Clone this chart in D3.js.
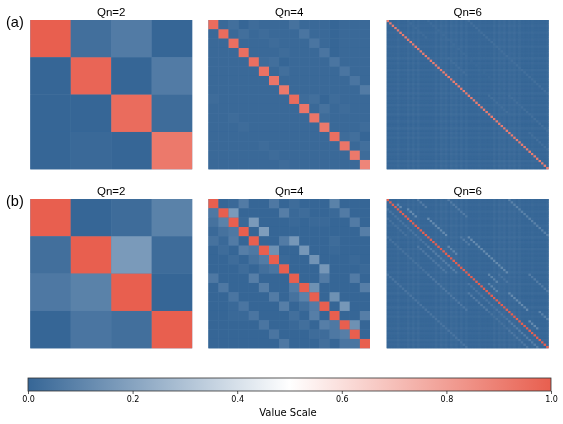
<!DOCTYPE html>
<html><head><meta charset="utf-8">
<script src="https://cdn.jsdelivr.net/npm/d3@7"></script>
<style>html,body{margin:0;padding:0;background:#fff}svg{display:block;filter:blur(0.5px)}</style>
</head><body><svg id="c" width="563" height="424"></svg>
<script>
const rowLabels = ["(a)", "(b)"];
const titles = ["Qn=2", "Qn=4", "Qn=6"];
const colorStops = [0, 0.5, 1];
const colorRange = ["#366696", "#ffffff", "#e85f4f"];
const barTicks = [0, 0.2, 0.4, 0.6, 0.8, 1];
const barLabel = "Value Scale";

const a2 = [
 [1.00,.03,.07,.00],
 [.00,.98,.00,.07],
 [.00,.00,.96,.02],
 [.00,.01,.00,.92]];
const b2 = [
 [1.00,.00,.02,.09],
 [.03,1.00,.17,.02],
 [.06,.09,1.00,.00],
 [.00,.05,.03,1.00]];
const a4 = [
 [.96,.01,.03,.00,.02,.01,.01,.01,.04,.01,.01,.01,.00,.01,.01,.01],
 [.01,.96,.01,.03,.01,.02,.01,.01,.01,.05,.01,.01,.00,.01,.01,.01],
 [.01,.01,.95,.01,.01,.01,.02,.01,.01,.01,.05,.01,.00,.01,.01,.01],
 [.01,.01,.01,.95,.01,.01,.01,.02,.01,.01,.01,.05,.00,.01,.01,.01],
 [.01,.01,.01,.01,.95,.02,.03,.00,.01,.01,.01,.01,.05,.01,.01,.01],
 [.01,.01,.01,.01,.01,.94,.01,.03,.01,.01,.01,.01,.01,.05,.01,.01],
 [.01,.01,.01,.01,.01,.01,.93,.01,.01,.01,.01,.01,.01,.01,.05,.01],
 [.01,.01,.01,.01,.01,.01,.01,.92,.01,.01,.01,.01,.01,.01,.01,.07],
 [.02,.01,.01,.01,.01,.01,.01,.01,.96,.02,.03,.00,.02,.01,.01,.01],
 [.01,.01,.01,.01,.01,.01,.01,.01,.01,.93,.01,.04,.01,.02,.01,.01],
 [.01,.01,.02,.01,.01,.01,.01,.01,.01,.01,.93,.02,.01,.01,.01,.01],
 [.01,.01,.01,.02,.01,.01,.01,.01,.01,.01,.01,.92,.01,.01,.01,.02],
 [.01,.01,.01,.01,.01,.01,.01,.01,.01,.01,.01,.01,.95,.02,.03,.00],
 [.01,.01,.01,.01,.01,.02,.01,.01,.01,.01,.01,.01,.01,.93,.01,.03],
 [.01,.01,.01,.01,.01,.01,.02,.01,.01,.01,.01,.01,.01,.01,.92,.02],
 [.01,.01,.01,.01,.01,.01,.01,.02,.01,.01,.01,.01,.01,.01,.01,.88]];
const b4 = [
 [1,.00,.01,.07,.00,.00,.06,.00,.02,.00,.00,.00,.09,.00,.00,.00],
 [.06,1,.17,.00,.00,.00,.00,.08,.01,.02,.00,.00,.01,.07,.00,.00],
 [.04,.09,1,.01,.17,.00,.00,.00,.01,.00,.01,.01,.00,.00,.07,.00],
 [.01,.04,.06,1,.00,.18,.00,.00,.00,.00,.00,.00,.00,.00,.00,.08],
 [.04,.01,.07,.00,1,.00,.00,.07,.16,.00,.00,.00,.02,.00,.00,.00],
 [.00,.02,.00,.08,.06,1,.14,.00,.00,.16,.00,.00,.01,.00,.00,.00],
 [.00,.00,.02,.00,.04,.07,1,.01,.00,.00,.15,.00,.00,.00,.01,.00],
 [.00,.00,.00,.02,.00,.03,.05,1,.00,.00,.00,.16,.00,.00,.00,.01],
 [.06,.00,.00,.00,.08,.00,.00,.00,1,.00,.00,.07,.00,.00,.07,.00],
 [.00,.06,.00,.00,.00,.08,.00,.00,.07,1,.14,.00,.00,.00,.00,.08],
 [.00,.00,.05,.00,.00,.00,.07,.00,.04,.09,1,.00,.14,.00,.00,.00],
 [.00,.00,.01,.05,.00,.00,.00,.08,.00,.03,.07,1,.00,.16,.00,.00],
 [.00,.00,.01,.01,.05,.00,.00,.00,.03,.00,.08,.00,1,.00,.00,.08],
 [.00,.00,.00,.00,.00,.05,.00,.00,.01,.03,.00,.08,.06,1,.14,.00],
 [.00,.00,.00,.00,.00,.00,.05,.00,.00,.00,.02,.02,.06,.08,1,.00],
 [.00,.00,.00,.00,.00,.00,.00,.06,.00,.00,.00,.03,.00,.05,.05,1]];

const a6Runs = [
 [0,0,64,.91],
 [0,32,32,.03],[0,8,8,.02],[0,16,16,.02],[16,24,8,.03],
 [32,40,8,.03],[32,48,16,.03],[48,56,8,.03],[16,32,16,.01]];
const b6Runs = [
 [0,0,64,1],
 [0,48,16,.09],[0,24,8,.07],[0,12,4,.07],[2,4,2,.12],[4,8,4,.12],[8,16,8,.12],
 [16,32,16,.12],[20,24,4,.10],[16,29,4,.07],
 [32,56,8,.07],[40,48,8,.12],[32,40,4,.10],[36,40,4,.10],[48,60,4,.09],[52,56,4,.12],[32,44,4,.05],
 [32,0,32,.05],[32,16,16,.06],[16,0,16,.04],[8,0,8,.04],
 [4,0,12,.05],[6,2,10,.04],
 [20,16,12,.08],[20,12,12,.06],[16,12,4,.05],
 [36,32,12,.05],[40,32,8,.07],[48,44,4,.05],
 [52,48,12,.08],[56,48,8,.06],[48,40,8,.04]];

// faint light stripes running through the Qn=6 panels, by column and by row
const colShade6 = [
 0,0,0,0,.01,0,0,0,.012,0,.012,0,.012,0,0,0,
 0,0,0,.012,0,.014,.006,.014,0,.014,.006,.014,0,.014,0,.012,
 0,0,0,0,.006,0,0,0,0,0,.014,0,.014,.006,.014,0,
 .014,.006,.014,0,.012,0,0,0,0,.006,0,0,0,0,0,.006];
const rowShade6 = [
 0,0,.008,0,0,.01,0,0,.008,0,0,.012,0,0,.006,0,
 .012,0,.008,0,0,.012,0,.008,0,.006,0,.01,0,.008,0,.012,
 0,.008,0,0,.012,0,.006,0,.012,0,0,.008,0,0,.012,0,
 .008,0,.012,0,0,.006,0,.01,0,.008,0,0,.012,0,.008,0];

const color = d3.scaleLinear().domain(colorStops).range(colorRange);
const svg = d3.select("#c");

function fromRuns(runs, n) {
  const m = d3.range(n).map((r) => d3.range(n).map((c) => colShade6[c] + rowShade6[r]));
  runs.slice().reverse().forEach(([r, c, len, v]) => {
    d3.range(len).forEach(i => { if (r + i < n && c + i < n) m[r + i][c + i] = v; });
  });
  return m;
}

const matrices = [
  [a2, a4, fromRuns(a6Runs, 64)],
  [b2, b4, fromRuns(b6Runs, 64)]
];
const xDomains = [[30.3, 192.2], [208.4, 370], [386.7, 548.7]];
const yDomains = [[20, 169.3], [199, 348.3]];
const seamFill = ["#5c85ad", "#4f7ba6", "#3f6f9d"];

matrices.forEach((rowM, ri) => {
  rowM.forEach((m, ci) => {
    const n = m.length;
    const x = d3.scaleBand().domain(d3.range(n)).range(xDomains[ci]);
    const y = d3.scaleBand().domain(d3.range(n)).range(yDomains[ri]);
    const g = svg.append("g");
    // underlay shows through the seams between cells
    g.append("rect").attr("x", xDomains[ci][0]).attr("y", yDomains[ri][0])
      .attr("width", xDomains[ci][1] - xDomains[ci][0]).attr("height", yDomains[ri][1] - yDomains[ri][0])
      .attr("fill", seamFill[ci]);
    const cells = m.flatMap((row, r) => row.map((v, c) => ({ r, c, v })));
    g.selectAll("rect.cell").data(cells).join("rect").attr("class", "cell")
      .attr("x", d => x(d.c)).attr("y", d => y(d.r))
      .attr("width", x.bandwidth()).attr("height", y.bandwidth())
      .attr("fill", d => color(d.v));
    g.append("text").attr("x", (xDomains[ci][0] + xDomains[ci][1]) / 2).attr("y", yDomains[ri][0] - 4.5)
      .attr("text-anchor", "middle").attr("font-family", "Liberation Sans").attr("font-size", 11.5)
      .attr("fill", "#000").text(titles[ci]);
  });
  svg.append("text").attr("x", 6).attr("y", yDomains[ri][0] + 7)
    .attr("font-family", "Liberation Sans").attr("font-size", 14.5).attr("fill", "#000").text(rowLabels[ri]);
});

// colour bar
const barX = d3.scaleLinear().domain([0, 1]).range([28, 551]);
const barY = 378, barH = 13;
const grad = svg.append("defs").append("linearGradient").attr("id", "bar");
grad.selectAll("stop").data(colorStops).join("stop")
  .attr("offset", d => d).attr("stop-color", d => color(d));
svg.append("rect").attr("x", barX(0)).attr("y", barY).attr("width", barX(1) - barX(0)).attr("height", barH)
  .attr("fill", "url(#bar)").attr("stroke", "#333").attr("stroke-width", 0.8);
const ax = svg.append("g").attr("transform", `translate(0,${barY + barH})`)
  .call(d3.axisBottom(barX).tickValues(barTicks).tickFormat(d3.format(".1f")).tickSize(3).tickPadding(2.5));
ax.select(".domain").remove();
ax.selectAll("line").attr("stroke", "#111").attr("stroke-width", 0.7);
ax.selectAll("text").attr("font-family", "DejaVu Sans").attr("font-size", 8).attr("fill", "#000");
svg.append("text").attr("x", (barX(0) + barX(1)) / 2 - 1.5).attr("y", 416).attr("text-anchor", "middle")
  .attr("font-family", "DejaVu Sans").attr("font-size", 10).attr("fill", "#000").text(barLabel);
</script></body></html>
